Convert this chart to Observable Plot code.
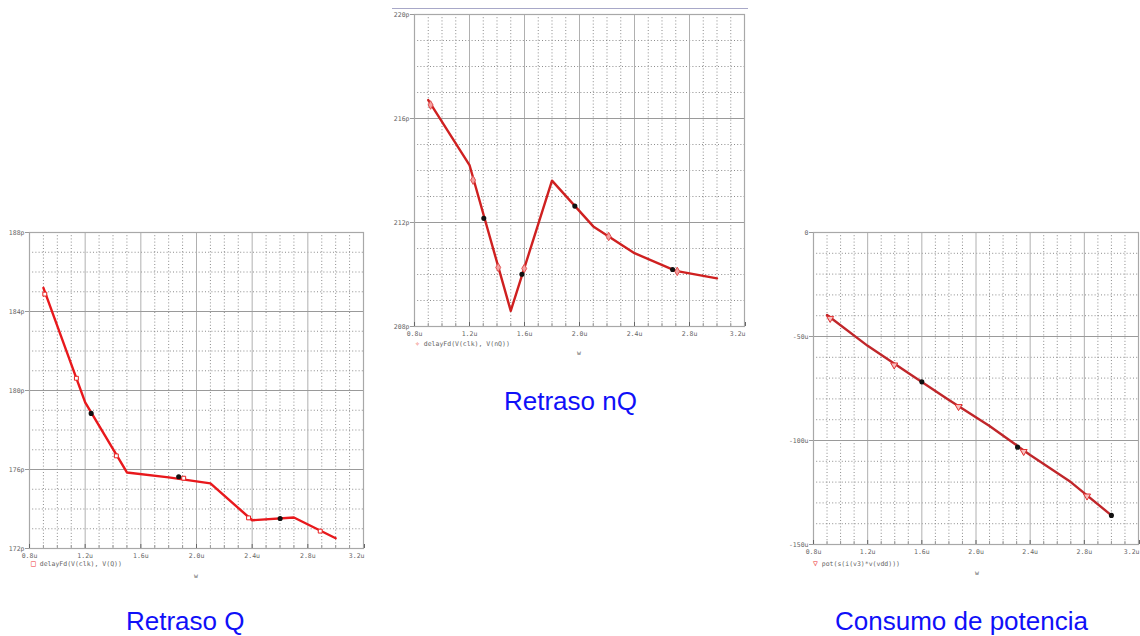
<!DOCTYPE html>
<html>
<head>
<meta charset="utf-8">
<script src="https://cdn.jsdelivr.net/npm/d3@7"></script>
<script src="https://cdn.jsdelivr.net/npm/@observablehq/plot@0.6"></script>
<style>
  html, body { margin: 0; padding: 0; background: #fff; }
  body { width: 1140px; height: 636px; position: relative; overflow: hidden; font-family: "Liberation Sans", Arial, sans-serif; }
  .abs { position: absolute; }
  .title { position: absolute; color: #1010f8; font-size: 26px; line-height: 26px; white-space: nowrap; }
  .leg { position: absolute; font-family: "DejaVu Sans Mono", monospace; font-size: 6.5px; color: #666; white-space: nowrap; line-height: 8px; }
  .leg b { font-weight: normal; color: #e33; font-size: 8px; }
</style>
</head>
<body>
<script>
// ---------- shared x axis (W) ----------
const xMajor = [0.8, 1.2, 1.6, 2.0, 2.4, 2.8, 3.2];
const xMinor = [0.9, 1.0, 1.1, 1.3, 1.4, 1.5, 1.7, 1.8, 1.9, 2.1, 2.2, 2.3, 2.5, 2.6, 2.7, 2.9, 3.0, 3.1];

// ---------- Retraso Q (delayFd(V(clk), V(Q))) ----------
const qW     = [0.9, 1.2, 1.5, 1.8, 2.1, 2.4, 2.7, 3.0];
const qDelay = [185.2, 179.4, 175.85, 175.6, 175.3, 173.43, 173.57, 172.52];
const qRedW  = [0.91, 1.137, 1.424, 1.908, 2.374, 2.889];
const qRedY  = [184.88, 180.62, 176.69, 175.56, 173.55, 172.88];
const qBlkW  = [1.243, 1.872, 2.601];
const qBlkY  = [178.84, 175.63, 173.52];
const qYMajor = [172, 176, 180, 184, 188];
const qYMinor = [173, 174, 175, 177, 178, 179, 181, 182, 183, 185, 186, 187];

// ---------- Retraso nQ (delayFd(V(clk), V(nQ))) ----------
const nqW     = [0.9, 1.2, 1.5, 1.8, 2.1, 2.4, 2.7, 3.0];
const nqDelay = [216.71, 214.21, 208.6, 213.61, 211.85, 210.82, 210.14, 209.85];
const nqRedW  = [0.917, 1.226, 1.409, 1.598, 2.212, 2.711];
const nqRedY  = [216.52, 213.63, 210.27, 210.23, 211.46, 210.12];
const nqBlkW  = [1.304, 1.581, 1.966, 2.677];
const nqBlkY  = [212.16, 210.01, 212.63, 210.19];
const nqYMajor = [208, 212, 216, 220];
const nqYMinor = [209, 210, 211, 213, 214, 215, 217, 218, 219];

// ---------- Consumo de potencia (pot(s(i(v3)*v(vdd)))) ----------
const pW     = [0.9, 1.2, 1.5, 1.8, 2.1, 2.4, 2.7, 3.0];
const pPower = [-39.7, -54.5, -67.5, -80.5, -93.0, -107.0, -120.0, -136.0];
const pRedW  = [0.923, 1.396, 1.871, 2.352, 2.82];
const pRedY  = [-41.3, -63.7, -83.7, -105.3, -126.7];
const pBlkW  = [1.6, 2.307, 3.0];
const pBlkY  = [-71.8, -103.2, -136.0];
const pYMajor = [-150, -100, -50, 0];
const pYMinor = [-140, -130, -120, -110, -90, -80, -70, -60, -40, -30, -20, -10];

function zip(xs, ys) { return xs.map((x, i) => ({x, y: ys[i]})); }
const fmtU = d => d.toFixed(1) + "u";

function chart(o) {
  const svg = Plot.plot({
    width: o.width, height: o.height,
    marginLeft: o.mL, marginRight: o.mR, marginTop: o.mT, marginBottom: o.mB,
    style: {fontFamily: "'DejaVu Sans Mono', monospace", fontSize: "6.5px", color: "#666", background: "transparent", overflow: "visible"},
    x: {domain: [0.8, 3.2], label: null},
    y: {domain: o.yDomain, label: null},
    marks: [
      Plot.gridX(xMinor, {stroke: "#808080", strokeOpacity: 0.9, strokeDasharray: "1,2.2"}),
      Plot.gridY(o.yMinor, {stroke: "#808080", strokeOpacity: 0.9, strokeDasharray: "1,2.2"}),
      Plot.gridX(xMajor, {stroke: "#b0b0b0", strokeOpacity: 1}),
      Plot.gridY(o.yMajor, {stroke: "#9a9a9a", strokeOpacity: 1}),
      Plot.frame({stroke: "#a8a8a8", strokeWidth: 1.2}),
      Plot.axisX({ticks: xMinor, tickSize: -3, tickFormat: () => "", stroke: "#999"}),
      Plot.axisX({ticks: xMajor.slice(0, -1), tickSize: -4, tickPadding: 9, tickFormat: fmtU, fill: "#666"}),
      Plot.axisX({ticks: xMajor.slice(-1), tickSize: -4, tickPadding: 9, tickFormat: fmtU, fill: "#666", textAnchor: "end", dx: 1}),
      Plot.axisY({ticks: o.yMajor, tickSize: 4, tickPadding: 1, tickFormat: o.yFmt, fill: "#666", stroke: "#999"}),
      Plot.line(zip(o.xs, o.ys), {x: "x", y: "y", stroke: o.color, strokeWidth: 2.4, strokeLinejoin: "round"}),
      Plot.dot(zip(o.redX, o.redY), {x: "x", y: "y", symbol: o.symbol, r: o.symR, rotate: o.rot || 0, stroke: o.markStroke, fill: o.markFill, strokeWidth: 1}),
      Plot.dot(zip(o.blkX, o.blkY), {x: "x", y: "y", r: 1.8, fill: "#111", stroke: "#111"})
    ]
  });
  svg.style.position = "absolute";
  svg.style.left = o.left + "px";
  svg.style.top = o.top + "px";
  document.body.appendChild(svg);
}

chart({left: 0, top: 222, width: 372, height: 346, mL: 29, mR: 9, mT: 10, mB: 20,
  yDomain: [172, 188], yMajor: qYMajor, yMinor: qYMinor, yFmt: d => d + "p",
  xs: qW, ys: qDelay, redX: qRedW, redY: qRedY, blkX: qBlkW, blkY: qBlkY,
  color: "#e8181c", symbol: "square", symR: 2.2, markStroke: "#e82020", markFill: "#fff"});

chart({left: 380, top: 4, width: 372, height: 342, mL: 34, mR: 8, mT: 10, mB: 20,
  yDomain: [208, 220], yMajor: nqYMajor, yMinor: nqYMinor, yFmt: d => d + "p",
  xs: nqW, ys: nqDelay, redX: nqRedW, redY: nqRedY, blkX: nqBlkW, blkY: nqBlkY,
  color: "#cf2020", symbol: "diamond", symR: 2.6, markStroke: "#e05050", markFill: "#f4a0a0"});

chart({left: 775, top: 222, width: 365, height: 342, mL: 38, mR: 2, mT: 10, mB: 20,
  yDomain: [-150, 0], yMajor: pYMajor, yMinor: pYMinor, yFmt: d => d === 0 ? "0" : d + "u",
  xs: pW, ys: pPower, redX: pRedW, redY: pRedY, blkX: pBlkW, blkY: pBlkY,
  color: "#c0262a", symbol: "triangle", symR: 2.6, rot: 180, markStroke: "#e03030", markFill: "#f8c0c0"});

// decorations: legends, axis var, titles
const html = [
  '<div class="abs" style="left:392px;top:8px;width:356px;height:0;border-top:1px solid #a8a8c8"></div>',
  '<div class="leg" style="left:31px;top:560px"><b>&#9633;</b> delayFd(V(clk), V(Q))</div>',
  '<div class="leg" style="left:194px;top:572px">w</div>',
  '<div class="leg" style="left:415px;top:340px"><b>&#10023;</b> delayFd(V(clk), V(nQ))</div>',
  '<div class="leg" style="left:577px;top:349px">w</div>',
  '<div class="leg" style="left:813px;top:560px"><b>&#9661;</b> pot(s(i(v3)*v(vdd)))</div>',
  '<div class="leg" style="left:975px;top:569px">w</div>',
  '<div class="title" style="left:504px;top:388px">Retraso nQ</div>',
  '<div class="title" style="left:126px;top:608px">Retraso Q</div>',
  '<div class="title" style="left:835px;top:608px">Consumo de potencia</div>'
];
document.body.insertAdjacentHTML("beforeend", html.join(""));
</script>
</body>
</html>
